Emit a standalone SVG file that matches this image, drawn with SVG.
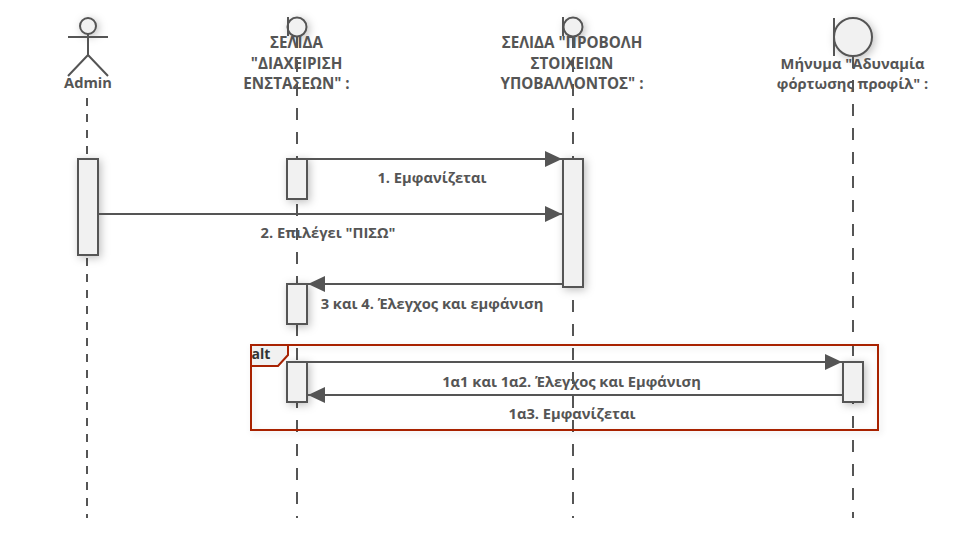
<svg xmlns="http://www.w3.org/2000/svg" width="966" height="538" viewBox="0 0 966 538">
<defs>
<filter id="s" x="-80%" y="-80%" width="260%" height="260%"><feDropShadow dx="2" dy="2" stdDeviation="4" flood-color="#000" flood-opacity="0.25"/></filter>
<filter id="t" x="-5%" y="-20%" width="110%" height="140%"><feDropShadow dx="2" dy="2" stdDeviation="3" flood-color="#000" flood-opacity="0.12"/></filter>
<marker id="a" markerUnits="userSpaceOnUse" markerWidth="18" markerHeight="16" refX="17" refY="8" orient="auto-start-reverse"><path d="M0 0L17 8L0 16Z" fill="#555"/></marker>
</defs>
<style>
text{font-family:"Open Sans","Noto Sans","DejaVu Sans",sans-serif;font-size:14.7px;font-weight:700;fill:#555;text-anchor:middle}
.h{font-size:15.2px}
.l{stroke:#555;stroke-width:2;fill:none;stroke-dasharray:12 12}
.m{stroke:#555;stroke-width:2;fill:none}
.n{fill:#f1f1f1;stroke:#555;stroke-width:2}
.b{filter:url(#s)}
.f{fill:none;stroke:#a82202;stroke-width:2;filter:url(#t)}
</style>
<rect width="966" height="538" fill="#fff"/>
<g id="actor-admin">
<circle class="n b" cx="88" cy="26" r="8"/>
<path class="m" d="M88 34V55M68 37H108M88 55L68 76M88 55L108 76"/>
<text x="88" y="88">Admin</text>
</g>
<g id="boundary-diaxeirisi">
<circle class="n b" cx="297" cy="27" r="9.5"/>
<path class="m" d="M288 17V36"/>
<text class="h" x="296.500" y="48">ΣΕΛΙΔΑ</text><text class="h" x="296.500" y="69">"ΔΙΑΧΕΙΡΙΣΗ</text><text class="h" x="296.500" y="89">ΕΝΣΤΑΣΕΩΝ" :</text>
</g>
<g id="boundary-provoli">
<circle class="n b" cx="573" cy="27" r="9.5"/>
<path class="m" d="M563 17V36"/>
<text class="h" x="572" y="48">ΣΕΛΙΔΑ "ΠΡΟΒΟΛΗ</text><text class="h" x="572" y="69">ΣΤΟΙΧΕΙΩΝ</text><text class="h" x="572" y="89">ΥΠΟΒΑΛΛΟΝΤΟΣ" :</text>
</g>
<g id="boundary-minima">
<circle class="n b" cx="853" cy="37" r="19"/>
<path class="m" d="M834 18V56"/>
<text x="852.500" y="69">Μήνυμα "Αδυναμία</text><text x="852.500" y="89">φόρτωσης προφίλ" :</text>
</g>
<g id="lifelines">
<path class="l" style="stroke-dasharray:8 8" d="M87 98V518"/><path class="l" d="M297 36V518"/><path class="l" d="M573 36V518"/><path class="l" d="M853 56V518"/>
</g>
<g id="alt-fragment">
<rect class="f" x="251" y="345" width="627" height="85"/>
<path d="M251 345H288V355L278 366H251Z" fill="#f1f1f1" stroke="#a82202" stroke-width="2"/>
<text x="261" y="359" style="fill:#333;font-size:14px">alt</text>
</g>
<g id="activations">
<rect class="n b" x="78" y="159" width="20" height="96"/>
<rect class="n b" x="287" y="159" width="20" height="40"/>
<rect class="n b" x="563" y="159" width="20" height="128"/>
<rect class="n b" x="287" y="284" width="20" height="40"/>
<rect class="n b" x="287" y="362" width="20" height="40"/>
<rect class="n b" x="843" y="362" width="20" height="40"/>
</g>
<g id="connectors">
<path class="m" d="M307 159H562" marker-end="url(#a)"/>
<path class="m" d="M98 214H562" marker-end="url(#a)"/>
<path class="m" d="M563 284H308" marker-end="url(#a)"/>
<path class="m" d="M307 362H842" marker-end="url(#a)"/>
<path class="m" d="M843 395H308" marker-end="url(#a)"/>
</g>
<g id="labels">
<text x="432" y="183">1. Εμφανίζεται</text>
<text x="328" y="238">2. Επιλέγει "ΠΙΣΩ"</text>
<text x="432" y="309">3 και 4. Έλεγχος και εμφάνιση</text>
<text x="571.500" y="387">1α1 και 1α2. Έλεγχος και Εμφάνιση</text>
<text x="572" y="419">1α3. Εμφανίζεται</text>
</g>
</svg>
